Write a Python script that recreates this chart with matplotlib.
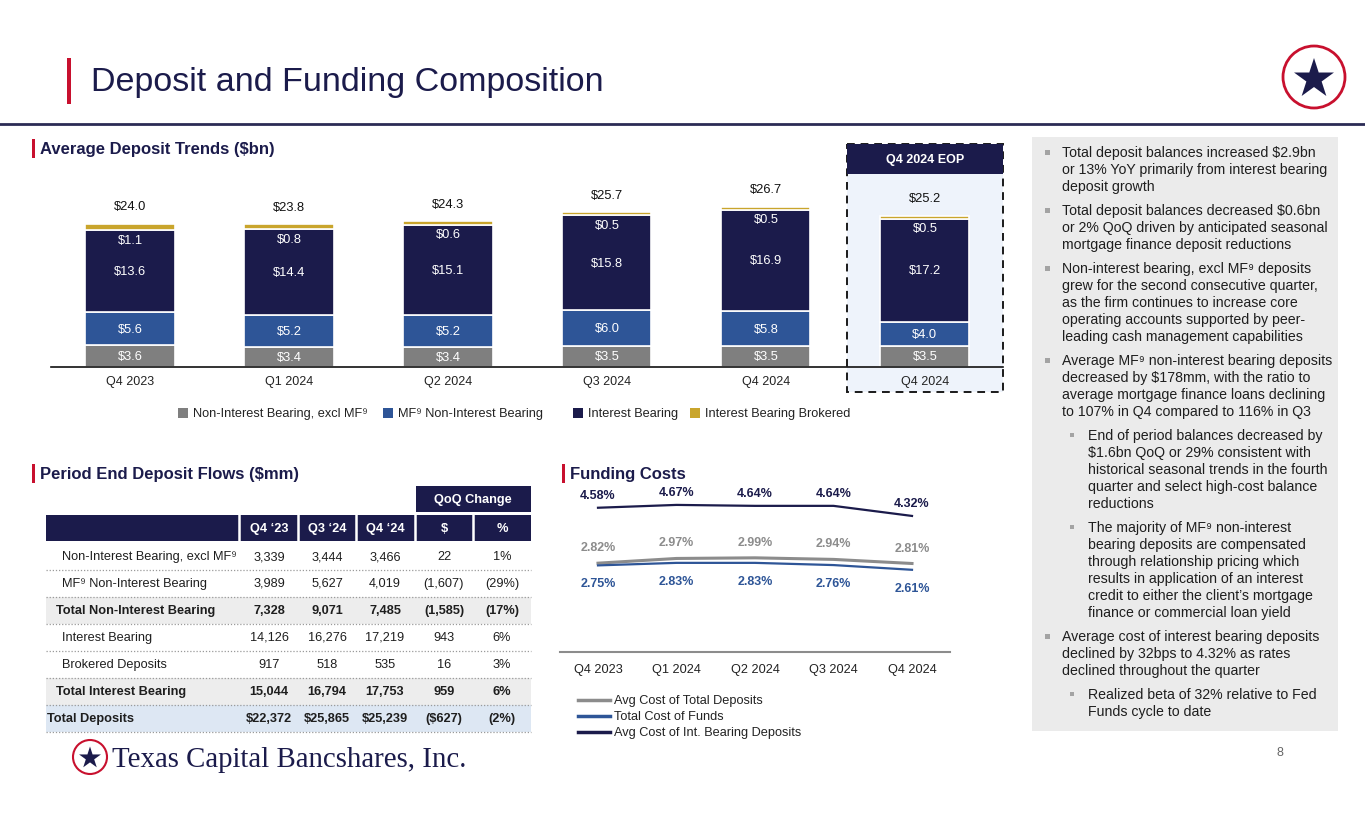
import numpy as np
import matplotlib
matplotlib.use('Agg')
import matplotlib.pyplot as plt
from matplotlib.patches import Rectangle, Circle, Polygon

W, H = 1365, 829
plt.rcParams['font.family'] = ['Liberation Sans', 'DejaVu Sans']

NAVY = '#1b1b4b'
RED = '#c8102e'
GREY = '#7f7f7f'
BLUE = '#2e5597'
GOLD = '#c9a52c'
LGREY = '#8c8c8c'
TXT = '#1e1e1e'

# average deposit trends ($bn)
quarters = ['Q4 2023', 'Q1 2024', 'Q2 2024', 'Q3 2024', 'Q4 2024', 'Q4 2024']
nib_excl_mf = [3.6, 3.4, 3.4, 3.5, 3.5, 3.5]
mf_nib = [5.6, 5.2, 5.2, 6.0, 5.8, 4.0]
int_bearing = [13.6, 14.4, 15.1, 15.8, 16.9, 17.2]
brokered = [1.1, 0.8, 0.6, 0.5, 0.5, 0.5]
avg_totals = [24.0, 23.8, 24.3, 25.7, 26.7, 25.2]
bar_legend = ['Non-Interest Bearing, excl MF⁹', 'MF⁹ Non-Interest Bearing',
              'Interest Bearing', 'Interest Bearing Brokered']

# funding costs (%)
fc_quarters = ['Q4 2023', 'Q1 2024', 'Q2 2024', 'Q3 2024', 'Q4 2024']
cost_total_dep = [2.82, 2.97, 2.99, 2.94, 2.81]
cost_funds = [2.75, 2.83, 2.83, 2.76, 2.61]
cost_int_bearing = [4.58, 4.67, 4.64, 4.64, 4.32]
fc_legend = ['Avg Cost of Total Deposits', 'Total Cost of Funds',
             'Avg Cost of Int. Bearing Deposits']

# period end deposit flows ($mm)
row_labels = ['Non-Interest Bearing, excl MF⁹', 'MF⁹ Non-Interest Bearing',
              'Total Non-Interest Bearing', 'Interest Bearing', 'Brokered Deposits',
              'Total Interest Bearing', 'Total Deposits']
col_labels = ['Q4 \u201823', 'Q3 \u201824', 'Q4 \u201824', '$', '%']
q4_23 = [3339, 3989, 7328, 14126, 917, 15044, 22372]
q3_24 = [3444, 5627, 9071, 16276, 518, 16794, 25865]
q4_24 = [3466, 4019, 7485, 17219, 535, 17753, 25239]
qoq_chg = [22, -1607, -1585, 943, 16, 959, -627]
qoq_pct = [1, -29, -17, 6, 3, 6, -2]

bullets = [
    (0, ['Total deposit balances increased $2.9bn',
         'or 13% YoY primarily from interest bearing',
         'deposit growth']),
    (0, ['Total deposit balances decreased $0.6bn',
         'or 2% QoQ driven by anticipated seasonal',
         'mortgage finance deposit reductions']),
    (0, ['Non-interest bearing, excl MF⁹ deposits',
         'grew for the second consecutive quarter,',
         'as the firm continues to increase core',
         'operating accounts supported by peer-',
         'leading cash management capabilities']),
    (0, ['Average MF⁹ non-interest bearing deposits',
         'decreased by $178mm, with the ratio to',
         'average mortgage finance loans declining',
         'to 107% in Q4 compared to 116% in Q3']),
    (1, ['End of period balances decreased by',
         '$1.6bn QoQ or 29% consistent with',
         'historical seasonal trends in the fourth',
         'quarter and select high-cost balance',
         'reductions']),
    (1, ['The majority of MF⁹ non-interest',
         'bearing deposits are compensated',
         'through relationship pricing which',
         'results in application of an interest',
         'credit to either the client\u2019s mortgage',
         'finance or commercial loan yield']),
    (0, ['Average cost of interest bearing deposits',
         'declined by 32bps to 4.32% as rates',
         'declined throughout the quarter']),
    (1, ['Realized beta of 32% relative to Fed',
         'Funds cycle to date']),
]


def px_axes(fig, left, top, right, bottom):
    return fig.add_axes([left / W, 1 - bottom / H, (right - left) / W, (bottom - top) / H])


def star(ax, cx, cy, r, color):
    k = np.arange(10)
    ang = np.pi / 2 + k * np.pi / 5
    rad = np.where(k % 2 == 0, r, r * 0.382)
    pts = np.column_stack([cx + rad * np.cos(ang), cy - rad * np.sin(ang)])
    ax.add_patch(Polygon(pts, closed=True, color=color, lw=0))


def section_title(ax, x, y, text):
    ax.add_patch(Rectangle((x - 8, y - 9), 3, 19, color=RED, lw=0))
    ax.text(x, y, text, fontsize=12, fontweight='bold', color=NAVY, va='center')


def fmt(v, dollar=False, pct=False):
    s = f'{abs(v):,}' + ('%' if pct else '')
    if dollar:
        s = '$' + s
    return f'({s})' if v < 0 else s


fig = plt.figure(figsize=(W / 100, H / 100), dpi=100)
bg = fig.add_axes([0, 0, 1, 1], zorder=0)
bg.set_xlim(0, W)
bg.set_ylim(H, 0)
bg.axis('off')

# header
bg.add_patch(Rectangle((67, 59), 4, 46, color=RED, lw=0))
bg.text(91, 82, 'Deposit and Funding Composition', fontsize=24.5, color=NAVY, va='center')
bg.plot([0, W], [125, 125], color='#2b2b55', lw=2)
bg.add_patch(Circle((1314, 78), 31, facecolor='white', edgecolor=RED, lw=2))
star(bg, 1314, 80, 21, NAVY)

# right commentary panel
bg.add_patch(Rectangle((1032, 138), 306, 594, color='#ebebeb', lw=0))
y = 153
for level, lines in bullets:
    if level == 0:
        bx, tx, s = 1047, 1062, 5
    else:
        bx, tx, s = 1072, 1088, 3.5
    bg.add_patch(Rectangle((bx - s / 2, y - s / 2), s, s, color='#a3a3a3', lw=0))
    for ln in lines:
        bg.text(tx, y, ln, fontsize=10.2, color=TXT, va='center')
        y += 17
    y += 7
bg.text(1280, 753, '8', fontsize=9, color='#666666', ha='center', va='center')

# ---- average deposit trends ----
section_title(bg, 40, 149, 'Average Deposit Trends ($bn)')
bg.add_patch(Rectangle((847, 145), 156, 248, facecolor='#eef3fb', edgecolor='#1a1a1a',
                       lw=1.4, ls=(0, (4, 3))))
bg.add_patch(Rectangle((847, 145), 156, 30, color=NAVY, lw=0))
bg.text(925, 160, 'Q4 2024 EOP', fontsize=9, fontweight='bold', color='white',
        ha='center', va='center')

ax1 = px_axes(fig, 51, 145, 1003, 368)
ax1.set_zorder(2)
ax1.patch.set_visible(False)
x = np.arange(len(quarters))
bw = 0.56
series = [nib_excl_mf, mf_nib, int_bearing, brokered]
colors = [GREY, BLUE, NAVY, GOLD]
bottom = np.zeros(len(quarters))
for vals, c in zip(series, colors):
    ax1.bar(x, vals, bw, bottom=bottom, color=c, edgecolor='white', lw=1.2)
    bottom += np.array(vals)
for i in range(len(quarters)):
    b0 = nib_excl_mf[i]
    b1 = b0 + mf_nib[i]
    b2 = b1 + int_bearing[i]
    ax1.text(i, b0 / 2, f'${nib_excl_mf[i]:.1f}', color='white', fontsize=9.3, ha='center', va='center')
    ax1.text(i, (b0 + b1) / 2, f'${mf_nib[i]:.1f}', color='white', fontsize=9.3, ha='center', va='center')
    ax1.text(i, (b1 + b2) / 2, f'${int_bearing[i]:.1f}', color='white', fontsize=9.3, ha='center', va='center')
    ax1.text(i, b2 - 1.6, f'${brokered[i]:.1f}', color='white', fontsize=9.3, ha='center', va='center')
    ax1.text(i, bottom[i] + 2.9, f'${avg_totals[i]:.1f}', color='#111111', fontsize=9.3,
             ha='center', va='center')
ax1.set_xlim(-0.497, 5.491)
ax1.set_ylim(0, 223 / 6)
ax1.set_xticks(x, quarters)
ax1.tick_params(axis='x', length=0, pad=6, labelsize=9, labelcolor='#222222')
ax1.set_yticks([])
for sp in ['top', 'left', 'right']:
    ax1.spines[sp].set_visible(False)
ax1.spines['bottom'].set_color('#111111')
ax1.spines['bottom'].set_linewidth(1.2)

for lx, lab, c in zip([178, 383, 573, 690], bar_legend, colors):
    bg.add_patch(Rectangle((lx, 409), 10, 10, color=c, lw=0))
    bg.text(lx + 15, 414, lab, fontsize=9.2, color='#222222', va='center')

# ---- period end deposit flows table ----
section_title(bg, 40, 474, 'Period End Deposit Flows ($mm)')
bg.add_patch(Rectangle((416, 487), 115, 26, color=NAVY, lw=0))
bg.text(473, 500, 'QoQ Change', fontsize=9.2, fontweight='bold', color='white',
        ha='center', va='center')
bg.add_patch(Rectangle((46, 516), 485, 26, color=NAVY, lw=0))
for sx in [239, 298, 356, 415, 473]:
    bg.plot([sx, sx], [516, 542], color='white', lw=1.8)
col_x = [269, 327, 385, 444, 502]
for cx, lab in zip(col_x, col_labels):
    bg.text(cx, 529, lab, fontsize=9.2, fontweight='bold', color='white', ha='center', va='center')

for i, lab in enumerate(row_labels):
    yc = 557 + 27 * i
    total_row = i == len(row_labels) - 1
    bold = lab.startswith('Total')
    if total_row:
        bg.add_patch(Rectangle((46, yc - 13.5), 485, 27, color='#dde7f3', lw=0))
    elif bold:
        bg.add_patch(Rectangle((46, yc - 13.5), 485, 27, color='#ededed', lw=0))
    bg.plot([46, 531], [yc + 13.5, yc + 13.5], color='#9a9a9a', lw=0.9, ls=(0, (1, 1.5)))
    lx = 47 if total_row else (56 if bold else 62)
    w = 'bold' if bold else 'normal'
    vals = [fmt(q4_23[i], total_row), fmt(q3_24[i], total_row), fmt(q4_24[i], total_row),
            fmt(qoq_chg[i], total_row), fmt(qoq_pct[i], pct=True)]
    bg.text(lx, yc, lab, fontsize=9.2, fontweight=w, color=TXT, va='center')
    for cx, v in zip(col_x, vals):
        bg.text(cx, yc, v, fontsize=9.2, fontweight=w, color=TXT, ha='center', va='center')

# company logo
bg.add_patch(Circle((90, 758), 17, facecolor='white', edgecolor=RED, lw=1.5))
star(bg, 90, 759, 11.5, NAVY)
bg.text(112, 767, 'Texas Capital Bancshares, Inc.', fontsize=20.8, color=NAVY,
        family=['Liberation Serif', 'DejaVu Serif'], va='baseline')

# ---- funding costs ----
section_title(bg, 570, 474, 'Funding Costs')
ax2 = px_axes(fig, 560, 493, 950, 653)
ax2.set_zorder(2)
ax2.patch.set_visible(False)
xf = np.arange(len(fc_quarters))
ax2.plot(xf, cost_int_bearing, color=NAVY, lw=1.6)
ax2.plot(xf, cost_total_dep, color=LGREY, lw=2.2)
ax2.plot(xf, cost_funds, color=BLUE, lw=1.6)
for i in range(len(fc_quarters)):
    ax2.annotate(f'{cost_int_bearing[i]:.2f}%', (xf[i], cost_int_bearing[i]), xytext=(0, 9),
                 textcoords='offset points', ha='center', va='center', fontsize=9,
                 fontweight='bold', color=NAVY, annotation_clip=False)
    ax2.annotate(f'{cost_total_dep[i]:.2f}%', (xf[i], cost_total_dep[i]), xytext=(0, 11.5),
                 textcoords='offset points', ha='center', va='center', fontsize=9,
                 fontweight='bold', color=LGREY, annotation_clip=False)
    ax2.annotate(f'{cost_funds[i]:.2f}%', (xf[i], cost_funds[i]), xytext=(0, -13),
                 textcoords='offset points', ha='center', va='center', fontsize=9,
                 fontweight='bold', color=BLUE, annotation_clip=False)
ax2.set_xlim(-0.484, 4.484)
ax2.set_ylim(0, 5.08)
ax2.set_xticks(xf, fc_quarters)
ax2.tick_params(axis='x', length=0, pad=8, labelsize=9.2, labelcolor='#222222')
ax2.set_yticks([])
for sp in ['top', 'left', 'right']:
    ax2.spines[sp].set_visible(False)
ax2.spines['bottom'].set_color(LGREY)
ax2.spines['bottom'].set_linewidth(1.5)

for ly, lab, c in zip([701, 717, 733], fc_legend, [LGREY, BLUE, NAVY]):
    bg.plot([578, 610], [ly, ly], color=c, lw=2.5)
    bg.text(614, ly, lab, fontsize=9.2, color='#222222', va='center')

fig.savefig('out.png', dpi=100)
